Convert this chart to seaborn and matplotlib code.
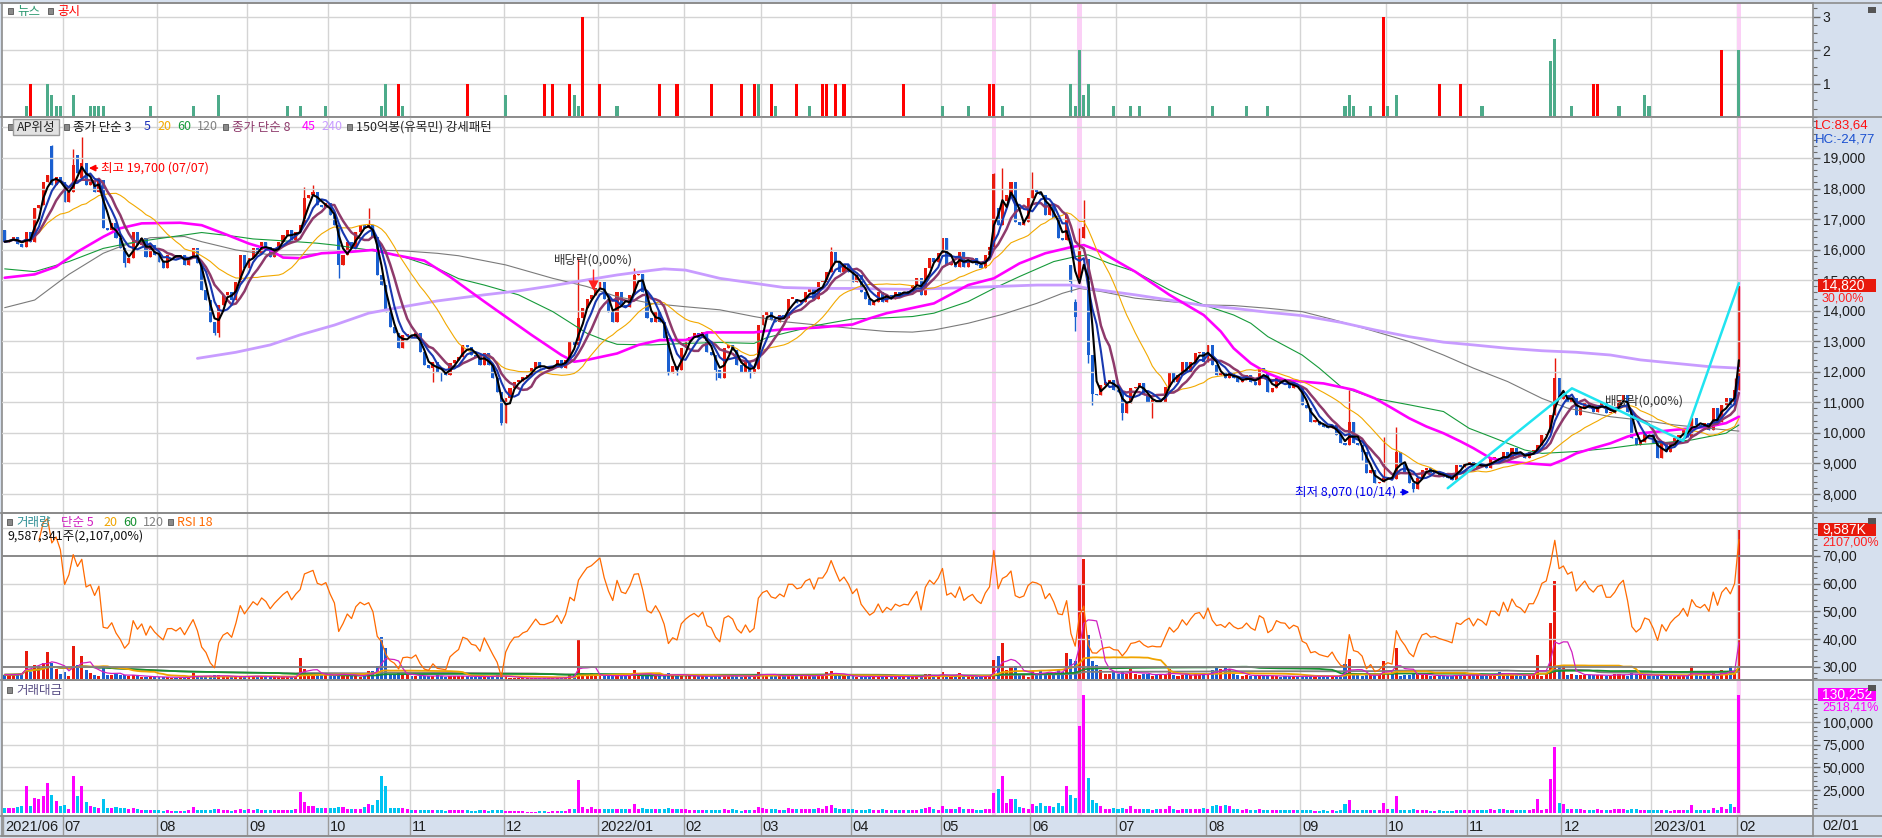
import numpy as np
import pandas as pd
import matplotlib
matplotlib.use("Agg")
import matplotlib.pyplot as plt
from matplotlib.patches import Rectangle
from matplotlib.lines import Line2D
from matplotlib.ticker import FixedLocator, MultipleLocator, FuncFormatter
import seaborn as sns

# ---------------- data ----------------
# daily closes by month
close_2021_06 = [16260, 16300, 16420, 16200, 16100, 16590, 16260, 17350, 17460, 18220, 18440, 18120, 18390, 18200]
close_2021_07 = [17570, 17900, 18770, 18500, 18850, 18120, 18220, 17900, 18280, 16700, 16650, 16860, 16370, 16040,
                 15550, 15720, 16590, 16150, 16370, 15770, 16150, 15830]
close_2021_08 = [15600, 15390, 15820, 15830, 15710, 15830, 15500, 15770, 16040, 15550, 14680, 14350, 13640, 13260,
                 14190, 14510, 14620, 14350, 14950, 15820, 15390]
close_2021_09 = [15710, 16040, 15880, 16260, 16100, 15770, 16040, 16260, 16480, 16640, 16310, 16590, 16810, 17680,
                 17790, 17900, 17460, 17400, 17520]
close_2021_10 = [17130, 16800, 15500, 15830, 16260, 16040, 16590, 16810, 16700, 16800, 16420, 15170, 14840, 13970,
                 13480, 13260, 12770, 13200, 13220]
close_2021_11 = [13150, 13260, 12660, 12220, 12120, 12330, 12000, 11950, 11900, 12280, 12400, 12500, 12880, 12800,
                 12550, 12500, 12220, 12600, 12220, 11790, 11350, 10320]
close_2021_12 = [11130, 11460, 11680, 11700, 11840, 11900, 12110, 12330, 12110, 12100, 12150, 12200, 12390, 12110,
                 12390, 12990, 12880, 13750, 14080, 14400, 14510, 14730]
close_2022_01 = [14950, 14400, 13970, 13640, 14620, 14190, 14130, 14520, 15170, 15200, 14620, 13750, 13630, 13970,
                 13640, 13100, 11950, 12200, 12060, 12770]
close_2022_02 = [12990, 13150, 13260, 13100, 13310, 12660, 12550, 12060, 11790, 12770, 12880, 12720, 12220, 12000,
                 12330, 11950, 12100, 13530]
close_2022_03 = [13860, 13970, 13700, 13640, 13860, 13750, 14400, 14400, 14240, 14300, 14620, 14730, 14400, 14950,
                 14950, 15280, 15930, 15600, 15280, 15500, 15280]
close_2022_04 = [14950, 15170, 14620, 14400, 14190, 14300, 14620, 14300, 14500, 14400, 14620, 14550, 14620, 14600,
                 14840, 15060, 14510, 15390, 15720, 15600, 15880]
close_2022_05 = [16370, 15500, 15600, 15440, 15930, 15440, 15600, 15710, 15500, 15390, 15820, 16100, 18460, 16800,
                 17600, 17790, 18220, 16920, 16800, 16920, 17680]
close_2022_06 = [17950, 17900, 17790, 17130, 17460, 17020, 16370, 16320, 17130, 14950, 13810, 15950, 16750, 12550,
                 11290, 11240, 11570, 11680, 11730, 11400]
close_2022_07 = [11350, 10640, 10970, 11460, 11510, 11620, 11240, 11020, 11080, 11020, 11020, 11510, 12010, 11680,
                 11900, 12330, 12000, 12330, 12600, 12660, 12330]
close_2022_08 = [12880, 12220, 11900, 11950, 11790, 12010, 11790, 11680, 11720, 11900, 11680, 11570, 12110, 12000,
                 11350, 11460, 11790, 11700, 11680, 11460, 11570, 11500]
close_2022_09 = [10910, 10810, 10370, 10400, 10260, 10200, 10150, 10260, 9930, 9660, 9600, 10370, 9660, 9600,
                 9390, 8680, 8790, 8350, 8400, 8510]
close_2022_10 = [8570, 8500, 9390, 9000, 8730, 8350, 8150, 8520, 8790, 8840, 8680, 8700, 8620, 8570,
                 8520, 8460, 8950, 8900, 9000]
close_2022_11 = [9060, 8840, 9010, 8950, 8840, 9170, 9170, 9060, 9390, 9170, 9500, 9330, 9280, 9170,
                 9390, 9390, 9610, 9930, 10000, 10590, 11790, 11100]
close_2022_12 = [11240, 11020, 11130, 10590, 10810, 11020, 10810, 10700, 10920, 10970, 10640, 10640, 10810, 11080,
                 11240, 10700, 9820, 9600, 9710, 10040, 9980]
close_2023_01 = [9660, 9170, 9660, 9390, 9660, 9820, 9930, 10150, 9880, 10480, 10260, 10200, 10320, 10100,
                 10810, 10370, 10910, 11130, 10920, 11400]
close_2023_02 = [14820]

# trading value per day, in thousands of 백만원
tv_2021_06 = [5.5, 5.5, 5.8, 6.0, 7.5, 30.0, 8.0, 16.5, 15.0, 19.0, 33.0, 20.0, 13.0, 7.0]
tv_2021_07 = [9.0, 4.0, 40.0, 18.0, 29.0, 12.0, 8.0, 6.0, 5.0, 15.0, 5.0, 5.0, 6.0, 5.0, 5.0, 4.0, 5.0, 4.0, 3.5,
              3.5, 3.0, 3.0]
tv_2021_08 = [3.0, 2.5, 3.0, 2.5, 2.2, 2.5, 2.5, 3.0, 6.6, 3.0, 3.5, 3.0, 3.5, 4.0, 4.5, 3.5, 3.0, 2.5, 3.0, 4.0, 3.5]
tv_2021_09 = [4.0, 3.5, 4.0, 3.0, 3.0, 3.5, 3.0, 3.0, 3.5, 3.0, 3.0, 4.0, 23.0, 12.0, 8.0, 8.0, 5.5, 5.5, 5.5]
tv_2021_10 = [5.5, 5.5, 6.6, 6.6, 4.5, 3.7, 4.4, 3.7, 6.6, 10.0, 9.0, 14.0, 41.0, 29.0, 5.5, 5.5, 5.5, 5.0, 4.5]
tv_2021_11 = [3.5, 3.0, 3.0, 3.5, 3.0, 3.0, 3.5, 3.0, 2.5, 3.0, 3.0, 3.5, 3.0, 3.0, 2.5, 2.5, 3.0, 3.0, 2.5, 3.0,
              3.5, 3.0]
tv_2021_12 = [2.0, 1.8, 1.5, 1.5, 1.5, 1.2, 1.2, 1.2, 1.5, 1.5, 1.2, 1.5, 1.5, 2.0, 2.5, 3.7, 3.7, 36.0, 6.6, 3.7,
              6.6, 3.7]
tv_2022_01 = [4.0, 3.7, 3.7, 4.4, 3.7, 3.7, 3.7, 4.4, 10.0, 4.4, 5.5, 4.4, 3.7, 3.7, 3.7, 4.4, 5.5, 3.7, 3.7, 3.7]
tv_2022_02 = [3.7, 3.3, 3.0, 3.0, 3.0, 3.3, 3.0, 3.0, 3.0, 3.7, 3.3, 3.7, 3.0, 2.5, 3.0, 3.0, 3.3, 6.6]
tv_2022_03 = [5.5, 4.4, 3.7, 3.7, 3.3, 3.3, 5.5, 4.4, 3.7, 3.7, 4.4, 3.7, 3.7, 5.5, 4.4, 7.4, 9.0, 5.5, 4.4, 3.7, 3.7]
tv_2022_04 = [3.7, 3.3, 3.0, 3.0, 3.7, 3.0, 3.0, 3.7, 3.3, 3.0, 3.0, 3.0, 3.3, 3.0, 3.0, 3.3, 3.7, 5.5, 6.0, 3.7, 3.3]
tv_2022_05 = [8.0, 4.4, 4.4, 4.0, 6.6, 3.7, 3.7, 3.7, 3.0, 3.0, 4.4, 4.4, 22.0, 26.0, 41.0, 11.0, 15.0, 15.0, 6.6,
              5.5, 3.7]
tv_2022_06 = [10.0, 7.0, 11.0, 8.0, 8.0, 6.6, 11.0, 8.0, 29.0, 20.0, 16.5, 95.6, 130.0, 38.6, 14.0, 11.0, 7.0, 4.4,
              4.4, 5.5]
tv_2022_07 = [4.4, 5.5, 4.4, 8.0, 4.4, 3.7, 4.4, 4.4, 3.0, 3.7, 4.4, 3.7, 8.0, 3.7, 3.0, 3.7, 4.4, 3.7, 4.4, 3.7, 5.5]
tv_2022_08 = [4.4, 8.0, 9.0, 8.0, 9.0, 8.0, 4.4, 3.7, 3.3, 3.7, 3.0, 3.3, 3.7, 3.0, 3.3, 3.0, 3.0, 2.6, 3.0, 2.6,
              2.6, 2.6]
tv_2022_09 = [2.6, 2.6, 3.0, 2.2, 2.2, 2.6, 2.2, 2.6, 2.2, 3.0, 10.0, 14.0, 3.0, 3.0, 2.6, 3.0, 2.6, 2.6, 2.6, 11.0]
tv_2022_10 = [3.7, 4.4, 19.0, 2.6, 3.0, 2.6, 3.7, 3.0, 3.0, 2.6, 2.2, 2.2, 2.6, 2.2, 2.2, 2.2, 3.0, 3.0, 2.6]
tv_2022_11 = [2.6, 2.6, 3.0, 3.0, 2.6, 3.7, 3.0, 4.4, 4.4, 3.0, 3.0, 3.0, 2.6, 3.0, 3.0, 3.7, 15.0, 2.6, 3.7, 37.5,
              72.8, 11.0]
tv_2022_12 = [10.0, 3.7, 4.4, 3.7, 3.7, 3.3, 3.3, 3.3, 3.7, 3.3, 3.0, 2.6, 4.4, 4.4, 3.7, 3.0, 4.4, 3.7, 3.0, 3.0, 3.0]
tv_2023_01 = [2.6, 3.0, 2.6, 2.6, 2.2, 2.6, 2.6, 3.0, 2.6, 9.0, 3.0, 2.6, 3.0, 3.0, 5.5, 3.0, 6.6, 3.7, 10.0, 6.6]
tv_2023_02 = [130.25]

month_labels = ["2021/06", "07", "08", "09", "10", "11", "12", "2022/01", "02", "03", "04", "05", "06", "07",
                "08", "09", "10", "11", "12", "2023/01", "02"]

# opens that gapped away from the previous close
gap_open_day = [0, 11, 17, 18, 232, 249, 250, 251, 252, 253]
gap_open_px = [16640, 19400, 19100, 18330, 17350, 15500, 14300, 15060, 16370, 15700]
# long wicks
high_day = [11, 16, 18, 70, 72, 85, 134, 147, 193, 231, 233, 240, 250, 251, 252, 314, 322, 325, 362, 404]
high_px = [19430, 19300, 19700, 18060, 18100, 17350, 15720, 15400, 16100, 18520, 18660, 18550, 14400, 16700,
           17620, 11400, 9880, 10200, 12450, 11790]
low_day = [28, 49, 50, 78, 100, 102, 116, 155, 157, 166, 174, 249, 250, 253, 254, 261, 268, 317, 329, 386]
low_px = [15440, 13200, 13150, 15060, 11680, 11700, 10260, 11900, 11900, 11730, 11800, 14620, 13320, 12300,
          10900, 10420, 10480, 9100, 8070, 9170]

# long moving averages (their history starts before the window), sampled off the chart
ma45_day = [0, 7, 12, 17, 23, 27, 32, 41, 46, 52, 57, 62, 65, 69, 74, 81, 86, 91, 98, 104, 112, 123, 130, 133, 136,
            143, 148, 153, 159, 164, 175, 178, 182, 190, 198, 202, 206, 210, 217, 225, 231, 237, 243, 249, 252, 256,
            260, 264, 268, 272, 276, 280, 284, 287, 291, 295, 299, 303, 308, 312, 315, 320, 324, 328, 332, 336, 340,
            343, 347, 351, 355, 359, 361, 364, 367, 371, 375, 379, 382, 386, 390, 394, 398, 402, 405]
ma45_px = [15080, 15190, 15440, 15930, 16420, 16700, 16860, 16880, 16800, 16480, 16200, 15990, 15740, 15720, 15880,
           15930, 15990, 15830, 15640, 15110, 14300, 13210, 12550, 12330, 12390, 12600, 12880, 13040, 13040, 13290,
           13290, 13340, 13390, 13450, 13550, 13750, 13920, 14030, 14240, 14840, 15060, 15550, 15880, 16080, 16150,
           15930, 15600, 15280, 14900, 14520, 14190, 13860, 13320, 12770, 12280, 11950, 11730, 11680, 11620, 11500,
           11410, 11130, 10810, 10480, 10210, 9990, 9720, 9500, 9170, 9060, 9010, 8970, 8950, 9120, 9330, 9500, 9660,
           9880, 9990, 10040, 10100, 10150, 10210, 10320, 10530]
ma60_day = [0, 7, 15, 23, 29, 34, 42, 46, 54, 58, 66, 73, 77, 85, 93, 101, 106, 112, 120, 128, 136, 140, 143, 151,
            159, 167, 175, 178, 182, 190, 198, 206, 212, 217, 225, 231, 237, 245, 250, 253, 258, 264, 272, 280, 287,
            291, 295, 303, 307, 312, 320, 328, 336, 342, 347, 351, 355, 359, 367, 375, 381, 386, 394, 398, 402, 405]
ma60_px = [15370, 15280, 15610, 16040, 16210, 16320, 16480, 16560, 16430, 16350, 16280, 16210, 16150, 15990, 15770,
           15390, 15050, 14840, 14520, 13970, 13260, 13040, 12900, 12880, 12930, 12960, 12930, 13120, 13260, 13530,
           13730, 13770, 13810, 13920, 14300, 14730, 15120, 15610, 15770, 15830, 15550, 15280, 14680, 14190, 13860,
           13590, 13150, 12550, 12120, 11520, 11130, 10920, 10700, 10150, 9880, 9660, 9440, 9330, 9390, 9500, 9610,
           9660, 9770, 9880, 9990, 10260]
ma120_day = [0, 7, 15, 23, 27, 34, 42, 46, 54, 62, 69, 77, 85, 93, 101, 106, 117, 128, 136, 143, 151, 159, 167, 175,
             182, 190, 198, 206, 212, 217, 225, 233, 241, 247, 251, 256, 264, 272, 280, 287, 295, 303, 310, 316, 320,
             328, 336, 343, 351, 359, 365, 375, 382, 390, 398, 405]
ma120_px = [14100, 14350, 15190, 15880, 16100, 16390, 16430, 16260, 15990, 15830, 15830, 15900, 15990, 15960, 15880,
            15800, 15500, 15060, 14790, 14460, 14240, 14130, 14030, 13810, 13640, 13530, 13420, 13320, 13300, 13370,
            13590, 13880, 14240, 14570, 14730, 14630, 14410, 14300, 14190, 14170, 14080, 13970, 13720, 13480, 13320,
            12990, 12550, 12120, 11680, 11130, 10810, 10530, 10420, 10260, 10150, 10060]
ma240_day = [45, 54, 62, 69, 77, 85, 93, 101, 107, 112, 120, 128, 136, 143, 151, 154, 159, 167, 175, 182, 190, 198,
             206, 212, 225, 241, 249, 253, 264, 272, 280, 287, 295, 303, 312, 320, 328, 336, 343, 351, 359, 367, 375,
             382, 390, 398, 405]
ma240_px = [12440, 12640, 12880, 13210, 13530, 13920, 14130, 14320, 14430, 14520, 14650, 14820, 15010, 15170, 15320,
            15370, 15330, 15060, 14900, 14760, 14730, 14730, 14710, 14700, 14760, 14840, 14840, 14730, 14520, 14350,
            14170, 14080, 13950, 13840, 13620, 13370, 13150, 12970, 12880, 12770, 12690, 12640, 12550, 12390, 12280,
            12170, 12120]

# news / disclosure counts
news_day = [5, 10, 11, 12, 13, 16, 20, 21, 22, 23, 34, 44, 50, 66, 69, 75, 88, 89, 93, 117, 133, 134, 143, 176, 180,
            188, 219, 225, 233, 249, 250, 251, 252, 253, 259, 263, 265, 272, 282, 290, 295, 313, 314, 315, 319, 323,
            325, 345, 361, 362, 366, 377, 383, 384, 405]
news_cnt = [.33, 1, .67, .33, .33, .67, .33, .33, .33, .33, .33, .33, .67, .33, .33, .33, .33, 1, .33, .67, .67, .33,
            .33, 1, .33, .33, .33, .33, .33, 1, .33, 2, .67, 1, .33, .33, .33, .33, .33, .33, .33, .33, .67, .33, .33,
            .33, .67, .33, 1.67, 2.33, .33, .33, .67, .33, 2]
notice_day = [6, 92, 108, 126, 128, 132, 135, 139, 153, 157, 165, 172, 175, 179, 185, 191, 192, 194, 196, 210, 230,
              231, 322, 335, 340, 371, 372, 401]
notice_cnt = [1, 1, 1, 1, 1, 1, 3, 1, 1, 1, 1, 1, 1, 1, 1, 1, 1, 1, 1, 1, 1, 1, 3, 1, 1, 1, 1, 2]

highlight_day = [231, 251, 405]
pattern_day = [337, 366, 392, 405]
pattern_px = [8190, 11460, 9740, 14900]
exdiv_day = [137, 383]

# ---------------- derived series ----------------
close_months = [close_2021_06, close_2021_07, close_2021_08, close_2021_09, close_2021_10, close_2021_11,
                close_2021_12, close_2022_01, close_2022_02, close_2022_03, close_2022_04, close_2022_05,
                close_2022_06, close_2022_07, close_2022_08, close_2022_09, close_2022_10, close_2022_11,
                close_2022_12, close_2023_01, close_2023_02]
tv_months = [tv_2021_06, tv_2021_07, tv_2021_08, tv_2021_09, tv_2021_10, tv_2021_11, tv_2021_12, tv_2022_01,
             tv_2022_02, tv_2022_03, tv_2022_04, tv_2022_05, tv_2022_06, tv_2022_07, tv_2022_08, tv_2022_09,
             tv_2022_10, tv_2022_11, tv_2022_12, tv_2023_01, tv_2023_02]

close = np.array(sum(close_months, []), dtype=float)
n = len(close)
days = np.arange(n)
month_start = np.cumsum([0] + [len(m) for m in close_months[:-1]])

open_ = np.r_[close[0], close[:-1]]
open_[gap_open_day] = gap_open_px
high = np.maximum(open_, close)
low = np.minimum(open_, close)
for d, v in zip(high_day, high_px):
    high[d] = max(high[d], v)
for d, v in zip(low_day, low_px):
    low[d] = min(low[d], v)
up = close >= open_

tv = np.array(sum(tv_months, []), dtype=float) * 1000          # 백만원
vol = tv * 1e6 / ((high + low + close) / 3)                    # shares

s = pd.Series(close)
ma = {k: s.rolling(k, min_periods=1).mean() for k in (3, 5, 8, 20)}
delta = s.diff()
gain = delta.clip(lower=0).ewm(alpha=1 / 18, min_periods=8).mean()
loss = (-delta.clip(upper=0)).ewm(alpha=1 / 18, min_periods=8).mean()
rsi = 100 - 100 / (1 + gain / loss)
vs = pd.Series(vol)
vma = {k: vs.rolling(k, min_periods=1).mean() for k in (5, 20, 60, 120)}

# ---------------- figure ----------------
sns.set_theme(style="white")
CJK = ["Noto Sans CJK KR", "DejaVu Sans"]
NUM = ["Liberation Sans", "DejaVu Sans"]
plt.rcParams["font.family"] = CJK
plt.rcParams["axes.unicode_minus"] = False

W, H = 1882, 838
STRIP = "#d6e0ee"
GRID = "#d4d4d4"
RED, BLUE = "#e8190c", "#1a5fd0"

fig = plt.figure(figsize=(W / 100, H / 100), dpi=100, facecolor=STRIP)


def box(x0, y0, x1, y1):
    return [x0 / W, 1 - y1 / H, (x1 - x0) / W, (y1 - y0) / H]


def ptext(x, y, s, color="#222222", size=9, family=CJK, ha="left", **kw):
    fig.text(x / W, 1 - y / H, s, color=color, fontsize=size, family=family, ha=ha, va="center", **kw)


def square(x, y):
    fig.add_artist(Rectangle((x / W, 1 - (y + 3) / H), 5 / W, 6 / H, transform=fig.transFigure,
                             fc="#8a8a8a", ec="#555555", lw=0.6))


ax_news = fig.add_axes(box(2, 3, 1813, 117))
ax_px = fig.add_axes(box(2, 117, 1813, 513), sharex=ax_news)
ax_rsi = fig.add_axes(box(2, 513, 1813, 680), sharex=ax_news)
ax_vol = ax_rsi.twinx()
ax_tv = fig.add_axes(box(2, 680, 1813, 816), sharex=ax_news)
ax_date = fig.add_axes(box(2, 816, 1813, 836), sharex=ax_news)
ax_rsi.set_zorder(ax_vol.get_zorder() + 1)
ax_rsi.patch.set_visible(False)
ax_vol.patch.set_visible(True)

for ax in (ax_news, ax_px, ax_vol, ax_tv):
    ax.set_facecolor("white")
    for m in month_start[1:]:
        ax.axvline(m - 0.45, color=GRID, lw=1, zorder=0)
    for d in highlight_day:
        ax.axvspan(d - 0.5, d + 0.5, color="#fbd0f6", lw=0, zorder=0.3)

for ax in (ax_news, ax_px, ax_rsi, ax_vol, ax_tv, ax_date):
    ax.set_xlim(-0.63, 422.3)
    ax.tick_params(axis="x", which="both", bottom=False, top=False, labelbottom=False)
    ax.grid(False)
    for sp in ax.spines.values():
        sp.set_color("#8c8c8c")
        sp.set_linewidth(1.2)

# news / disclosure panel
ax_news.bar(news_day, news_cnt, width=0.72, color="#4dab8a", lw=0, zorder=2)
ax_news.bar(notice_day, notice_cnt, width=0.72, color="#ff0000", lw=0, zorder=2)
for v in (1, 2, 3):
    ax_news.axhline(v, color=GRID, lw=1, zorder=0.5)
ax_news.set_ylim(0, 3.41)

# price panel
cols = np.where(up, RED, BLUE)
for v in range(8000, 20001, 1000):
    ax_px.axhline(v, color=GRID, lw=1, zorder=0.5)
ax_px.vlines(days, low, high, colors=cols, lw=1, zorder=2)
ax_px.bar(days, np.maximum(np.abs(close - open_), 40), bottom=np.minimum(open_, close), width=0.72,
          color=cols, lw=0, zorder=2)

line_kw = dict(ax=ax_px, legend=False, errorbar=None)
sns.lineplot(x=ma120_day, y=ma120_px, color="#7a7a7a", linewidth=0.8, **line_kw)
sns.lineplot(x=ma60_day, y=ma60_px, color="#169a3a", linewidth=0.8, **line_kw)
sns.lineplot(x=ma240_day, y=ma240_px, color="#c89cff", linewidth=2.0, **line_kw)
sns.lineplot(x=ma45_day, y=ma45_px, color="#ff00ff", linewidth=1.9, **line_kw)
sns.lineplot(x=days, y=ma[20], color="#f2a900", linewidth=0.8, **line_kw)
sns.lineplot(x=days, y=ma[8], color="#8e3a6b", linewidth=1.8, **line_kw)
sns.lineplot(x=days, y=ma[5], color="#1838b0", linewidth=1.5, **line_kw)
sns.lineplot(x=days, y=ma[3], color="#000000", linewidth=1.5, **line_kw)
sns.lineplot(x=pattern_day, y=pattern_px, color="#20e4f0", linewidth=1.8, **line_kw)
for ln in ax_px.get_lines():
    ln.set_zorder(3)
ax_px.set_ylim(7378, 20342)

# 최고 / 최저 / 배당락 marks
hi = int(np.argmax(high))
lo = int(np.argmin(low))
ax_px.annotate("", xy=(hi + 1.0, high[hi] - 1030), xytext=(hi + 4.3, high[hi] - 1030),
               arrowprops=dict(arrowstyle="-|>", color="#ff0000", lw=1.2, mutation_scale=9))
ax_px.text(hi + 4.4, high[hi] - 1030, f"최고 {int(high[hi]):,} (07/07)", color="#ff0000", fontsize=9,
           va="center", ha="left")
ax_px.annotate("", xy=(lo - 0.3, low[lo] - 10), xytext=(lo - 3.6, low[lo] - 10),
               arrowprops=dict(arrowstyle="-|>", color="#0000ee", lw=1.2, mutation_scale=9))
ax_px.text(lo - 4.0, low[lo] - 10, f"최저 {int(low[lo]):,} (10/14)", color="#0000ee", fontsize=9,
           va="center", ha="right")
ax_px.text(exdiv_day[0] + 0.5, 15660, "배당락(0,00%)", color="#333333", fontsize=9, ha="center", va="center",
           zorder=4)
ax_px.vlines(exdiv_day[0] + 0.5, 14950, 15380, color="#ff2020", lw=1, zorder=4)
ax_px.scatter([exdiv_day[0] + 0.5], [14850], marker="v", s=55, color="#ff2020", zorder=4, lw=0)
ax_px.text(exdiv_day[1], 11050, "배당락(0,00%)", color="#333333", fontsize=9, ha="center", va="center",
           zorder=4)

# volume + RSI panel
ax_vol.bar(days, vol, width=0.72, color=cols, lw=0, zorder=2)
vl_kw = dict(ax=ax_vol, legend=False, errorbar=None)
sns.lineplot(x=days, y=vma[120], color="#808080", linewidth=1.3, **vl_kw)
sns.lineplot(x=days, y=vma[60], color="#169030", linewidth=1.3, **vl_kw)
sns.lineplot(x=days, y=vma[20], color="#f0a400", linewidth=1.3, **vl_kw)
sns.lineplot(x=days, y=vma[5], color="#d020c0", linewidth=0.9, **vl_kw)
for ln in ax_vol.get_lines():
    ln.set_zorder(3)
ax_vol.set_ylim(0, 10.6e6)
ax_vol.set_yticks([])
ax_vol.tick_params(right=False, labelright=False, left=False, labelleft=False)

for v in (40, 50, 60, 80):
    ax_rsi.axhline(v, color=GRID, lw=1, zorder=0.5)
for v in (30, 70):
    ax_rsi.axhline(v, color="#808080", lw=1.3, zorder=1)
sns.lineplot(x=days, y=rsi, ax=ax_rsi, color="#ff6a00", linewidth=0.9, legend=False, errorbar=None)
ax_rsi.set_ylim(25.3, 85.5)

# trading value panel
ax_tv.bar(days, tv, width=0.72, color=np.where(up, "#ff00ff", "#00c4f2"), lw=0, zorder=2)
for v in range(25000, 125001, 25000):
    ax_tv.axhline(v, color=GRID, lw=1, zorder=0.5)
ax_tv.set_ylim(-3500, 146250)

for ax in (ax_news, ax_px, ax_rsi, ax_vol, ax_tv, ax_date):
    ax.set_xlabel("")
    ax.set_ylabel("")

# right-hand scales
tick_kw = dict(axis="y", which="both", direction="out", color="#6a6a6a", labelcolor="#1e1e1e",
               labelsize=10, labelfontfamily=NUM, pad=2)
ax_news.yaxis.set_major_locator(FixedLocator([1, 2, 3]))
ax_news.yaxis.set_minor_locator(MultipleLocator(0.25))
ax_news.yaxis.set_major_formatter(FuncFormatter(lambda v, p: f"{v:.0f}"))
ax_px.yaxis.set_major_locator(FixedLocator(list(range(8000, 19001, 1000))))
ax_px.yaxis.set_minor_locator(MultipleLocator(200))
ax_px.yaxis.set_major_formatter(FuncFormatter(lambda v, p: f"{v:,.0f}"))
ax_rsi.yaxis.set_major_locator(FixedLocator([30, 40, 50, 60, 70]))
ax_rsi.yaxis.set_minor_locator(MultipleLocator(2))
ax_rsi.yaxis.set_major_formatter(FuncFormatter(lambda v, p: f"{v:.2f}".replace(".", ",")))
ax_tv.yaxis.set_major_locator(FixedLocator([25000, 50000, 75000, 100000]))
ax_tv.yaxis.set_minor_locator(FixedLocator(list(range(5000, 125001, 5000))))
ax_tv.yaxis.set_major_formatter(FuncFormatter(lambda v, p: f"{v:,.0f}"))
for ax in (ax_news, ax_px, ax_rsi, ax_tv):
    ax.yaxis.tick_right()
    ax.tick_params(**tick_kw)
    ax.tick_params(axis="y", which="major", length=5, width=1)
    ax.tick_params(axis="y", which="minor", length=3, width=0.8)
    ax.tick_params(axis="y", left=False, labelleft=False)

# date strip
ax_date.set_facecolor(STRIP)
ax_date.set_yticks([])
ax_date.set_ylim(0, 1)
for m, lab in zip(month_start, month_labels):
    ax_date.axvline(m - 0.45, color="#9a9a9a", lw=1)
    ax_date.text(m + 0.05, 0.45, lab, fontsize=10.5, family=NUM, color="#1e1e1e", ha="left", va="center")
ptext(1822, 826, "02/01", size=10.5, family=NUM, color="#1e1e1e")

# panel separators across the scale strip
for y in (3, 117, 513, 680, 816, 836):
    fig.add_artist(Line2D([0, 1], [1 - y / H, 1 - y / H], transform=fig.transFigure, color="#8c8c8c", lw=1.2))


# last-value tags on the scale strip
def value_tag(ax, value, text, face, sub, sub_color):
    y = ax.transData.transform((0, value))[1]
    fig.add_artist(Rectangle((1818 / W, (y - 6.5) / H), 58 / W, 13 / H, transform=fig.transFigure,
                             fc=face, ec="none", zorder=5))
    fig.text(1822 / W, y / H, text, color="white", fontsize=10, family=NUM, va="center", zorder=6)
    fig.text(1822 / W, (y - 12.5) / H, sub, color=sub_color, fontsize=9, family=NUM, va="center",
             zorder=6)


chg = (close[-1] / close[-2] - 1) * 100
value_tag(ax_px, close[-1], f"{close[-1]:,.0f}", RED, f"{chg:.2f}%".replace(".", ","), "#ff2020")
value_tag(ax_vol, vol[-1], "9,587K", RED, "2107,00%", "#ff2020")
value_tag(ax_tv, tv[-1], "130,252", "#ff00ff", "2518,41%", "#ff00ff")
ptext(1815, 126, "LC:83,64", color="#ff1010", size=9.5, family=NUM)
ptext(1815, 139, "HC:-24,77", color="#1a50d0", size=9.5, family=NUM)
for y in (10, 521, 688):
    fig.add_artist(Rectangle((1868 / W, 1 - (y + 3) / H), 8 / W, 6 / H, transform=fig.transFigure,
                             fc="#555555", ec="none", zorder=7))

# legends
square(8, 11)
ptext(17, 11, "뉴스", color="#2e9a72")
square(48, 11)
ptext(57, 11, "공시", color="#ff0000")

square(8, 127)
fig.add_artist(Rectangle((13 / W, 1 - 135 / H), 46 / W, 16 / H, transform=fig.transFigure,
                         fc="#e2e2e2", ec="#9a9a9a", lw=1))
ptext(36, 127, "AP위성", ha="center")
square(64, 127)
ptext(73, 127, "종가 단순 3", color="#111111")
ptext(144, 127, "5", color="#1a2fb8")
ptext(157, 127, "20", color="#f2a900")
ptext(177, 127, "60", color="#169a3a")
ptext(197, 127, "120", color="#808080")
square(223, 127)
ptext(232, 127, "종가 단순 8", color="#8e3a6b")
ptext(302, 127, "45", color="#ff00ff")
ptext(321, 127, "240", color="#c89cff")
square(347, 127)
ptext(356, 127, "150억봉(유목민) 강세패턴", color="#222222")

square(7, 522)
ptext(16, 522, "거래량", color="#2f8f95")
ptext(61, 522, "단순 5", color="#d020c0")
ptext(103, 522, "20", color="#f0a400")
ptext(123, 522, "60", color="#169030")
ptext(143, 522, "120", color="#808080")
square(168, 522)
ptext(177, 522, "RSI 18", color="#ff6a00")
ptext(7, 536, "9,587,341주(2,107,00%)", color="#111111")

square(7, 690)
ptext(16, 690, "거래대금", color="#5a4f86")

fig.savefig("out.png", dpi=100, facecolor=fig.get_facecolor())
